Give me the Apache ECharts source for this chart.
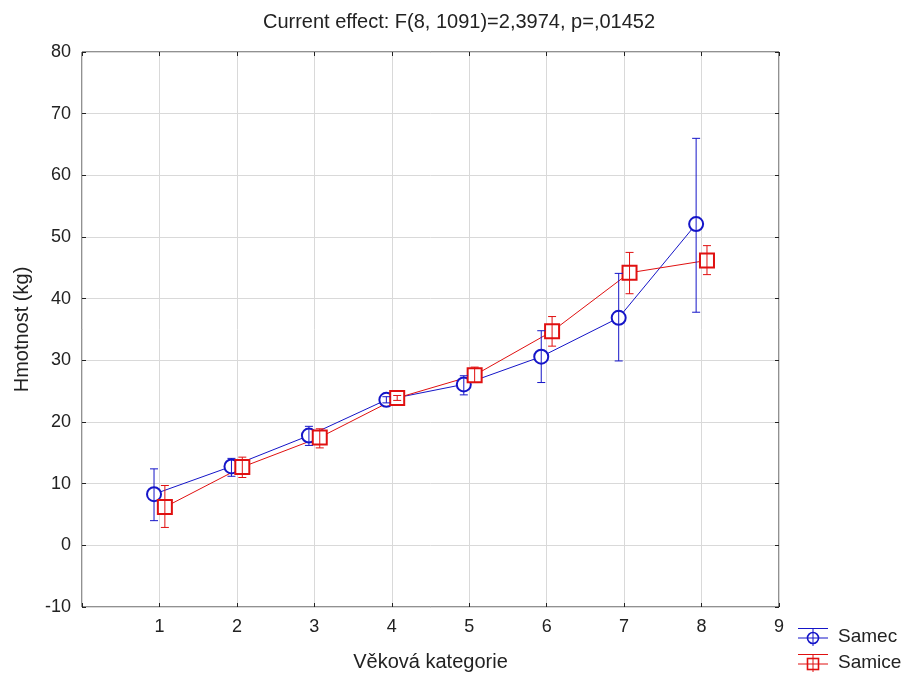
<!DOCTYPE html>
<html>
<head>
<meta charset="utf-8">
<script src="https://cdn.jsdelivr.net/npm/echarts@6/dist/echarts.min.js"></script>
<style>html,body{margin:0;padding:0;background:#fff;}#main{width:904px;height:673px;}</style>
</head>
<body>
<div id="main"></div>
<script>
var categories = [1, 2, 3, 4, 5, 6, 7, 8];
var xTickLabels = ['1', '2', '3', '4', '5', '6', '7', '8', '9'];
var samecMean = [8.3, 12.8, 17.8, 23.6, 26.1, 30.6, 36.9, 52.1];
var samecLow  = [4.0, 11.2, 16.2, 23.1, 24.4, 26.4, 29.9, 37.8];
var samecHigh = [12.4, 14.1, 19.3, 24.1, 27.5, 34.8, 44.1, 66.0];
var samiceMean = [6.2, 12.7, 17.5, 23.9, 27.6, 34.7, 44.2, 46.2];
var samiceLow  = [2.9, 11.0, 15.8, 23.5, 26.4, 32.3, 40.8, 43.9];
var samiceHigh = [9.7, 14.3, 18.9, 24.3, 28.9, 37.1, 47.5, 48.6];
var offsetSamec = -0.07, offsetSamice = 0.07;

var FONT = 'Liberation Sans';
var BLUE = '#1515c8', RED = '#e01010';

function pts(mean, off){ return categories.map(function(c,i){ return [c+off, mean[i]]; }); }
function errs(lo, hi, off){ return categories.map(function(c,i){ return [c+off, lo[i], hi[i]]; }); }
function errRender(color){
  return function(params, api){
    var x = api.value(0);
    var lo = api.coord([x, api.value(1)]);
    var hi = api.coord([x, api.value(2)]);
    var w = 4;
    var st = {stroke: color, lineWidth: 1};
    return {type:'group', children:[
      {type:'line', shape:{x1:lo[0], y1:lo[1], x2:hi[0], y2:hi[1]}, style:st},
      {type:'line', shape:{x1:lo[0]-w, y1:lo[1], x2:lo[0]+w, y2:lo[1]}, style:st},
      {type:'line', shape:{x1:hi[0]-w, y1:hi[1], x2:hi[0]+w, y2:hi[1]}, style:st}
    ]};
  };
}
function legendIcon(color, shape){
  var mark = shape === 'circle'
    ? '<circle cx="15" cy="11" r="5.5" fill="none" stroke="' + color + '" stroke-width="1.6"/>'
    : '<rect x="9.5" y="5.5" width="11" height="11" fill="none" stroke="' + color + '" stroke-width="1.6"/>';
  var svg = '<svg xmlns="http://www.w3.org/2000/svg" width="30" height="20" viewBox="0 0 30 20">' +
    '<line x1="0" y1="1.5" x2="30" y2="1.5" stroke="' + color + '" stroke-width="1"/>' +
    '<line x1="0" y1="11" x2="30" y2="11" stroke="' + color + '" stroke-width="1"/>' +
    '<line x1="15" y1="1.5" x2="15" y2="19" stroke="' + color + '" stroke-width="1"/>' +
    mark + '</svg>';
  return 'image://data:image/svg+xml;charset=utf-8,' + encodeURIComponent(svg);
}

var chart = echarts.init(document.getElementById('main'));
chart.setOption({
  backgroundColor: '#fff',
  animation: false,
  textStyle: {fontFamily: FONT},
  title: {
    text: 'Current effect: F(8, 1091)=2,3974, p=,01452',
    left: 454, textAlign: 'center', top: 7,
    textStyle: {fontFamily: FONT, fontSize: 20, fontWeight: 'normal', color: '#222'}
  },
  legend: {
    data: [{name: 'Samec', icon: legendIcon(BLUE, 'circle')}, {name: 'Samice', icon: legendIcon(RED, 'rect')}],
    orient: 'vertical', left: 798, top: 627, itemGap: 6, padding: 0,
    itemWidth: 30, itemHeight: 20,
    textStyle: {fontFamily: FONT, fontSize: 19, color: '#222', padding: [0, 0, 0, 5]}
  },
  grid: {left: 82, width: 697, top: 52, height: 555, containLabel: false, outerBoundsMode: 'none',
    show: true, borderColor: '#222', borderWidth: 1, backgroundColor: 'transparent'},
  xAxis: [{
    type: 'value', min: 0, max: 9, interval: 1, position: 'bottom',
    name: 'Věková kategorie', nameLocation: 'middle', nameGap: 45,
    nameTextStyle: {fontFamily: FONT, fontSize: 20, color: '#222'},
    axisLine: {show: false, onZero: false},
    axisTick: {inside: true, length: 4, lineStyle: {color: '#222'}},
    axisLabel: {fontFamily: FONT, fontSize: 18, color: '#222', margin: 11,
      formatter: function(v){ var i = xTickLabels.indexOf(String(v)); return i >= 0 ? xTickLabels[i] : ''; }},
    splitLine: {show: true, lineStyle: {color: '#d9d9d9', width: 1}}
  }, {
    type: 'value', min: 0, max: 9, interval: 1, position: 'top',
    axisLine: {show: false, onZero: false},
    axisTick: {inside: true, length: 4, lineStyle: {color: '#222'}},
    axisLabel: {show: false}, splitLine: {show: false}
  }],
  yAxis: [{
    type: 'value', min: -10, max: 80, interval: 10, position: 'left',
    name: 'Hmotnost (kg)', nameLocation: 'middle', nameGap: 50,
    nameTextStyle: {fontFamily: FONT, fontSize: 20, color: '#222'},
    axisLine: {show: false, onZero: false},
    axisTick: {show: true, inside: true, length: 4, lineStyle: {color: '#222'}},
    axisLabel: {fontFamily: FONT, fontSize: 18, color: '#222', margin: 11},
    splitLine: {show: true, lineStyle: {color: '#d9d9d9', width: 1}}
  }, {
    type: 'value', min: -10, max: 80, interval: 10, position: 'right',
    axisLine: {show: false, onZero: false},
    axisTick: {show: true, inside: true, length: 4, lineStyle: {color: '#222'}},
    axisLabel: {show: false}, splitLine: {show: false}
  }],
  series: [
    {name: 'Samec', type: 'line', data: pts(samecMean, offsetSamec),
     symbol: 'emptyCircle', symbolSize: 14, color: BLUE,
     lineStyle: {color: BLUE, width: 1}, itemStyle: {color: BLUE, borderColor: BLUE, borderWidth: 2}, z: 3},
    {name: 'Samice', type: 'line', data: pts(samiceMean, offsetSamice),
     symbol: 'emptyRect', symbolSize: 14, color: RED,
     lineStyle: {color: RED, width: 1}, itemStyle: {color: RED, borderColor: RED, borderWidth: 2}, z: 3},
    {name: 'Samec err', type: 'custom', data: errs(samecLow, samecHigh, offsetSamec),
     renderItem: errRender(BLUE), encode: {x: 0, y: [1, 2]}, z: 4, silent: true},
    {name: 'Samice err', type: 'custom', data: errs(samiceLow, samiceHigh, offsetSamice),
     renderItem: errRender(RED), encode: {x: 0, y: [1, 2]}, z: 4, silent: true}
  ]
});
</script>
</body>
</html>
